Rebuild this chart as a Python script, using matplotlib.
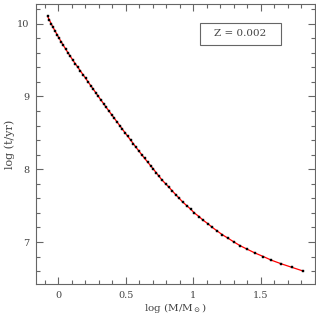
import matplotlib
matplotlib.use("Agg")
import matplotlib.pyplot as plt
from matplotlib.ticker import MultipleLocator
from matplotlib.patches import Rectangle

# log age (yr) of each isochrone point
log_age = [10.10, 10.05, 10.00, 9.95, 9.90, 9.85, 9.80, 9.75, 9.70, 9.65,
           9.60, 9.55, 9.50, 9.45, 9.40, 9.35, 9.30, 9.25, 9.20, 9.15,
           9.10, 9.05, 9.00, 8.95, 8.90, 8.85, 8.80, 8.75, 8.70, 8.65,
           8.60, 8.55, 8.50, 8.45, 8.40, 8.35, 8.30, 8.25, 8.20, 8.15,
           8.10, 8.05, 8.00, 7.95, 7.90, 7.85, 7.80, 7.75, 7.70, 7.65,
           7.60, 7.55, 7.50, 7.45, 7.40, 7.35, 7.30, 7.25, 7.20, 7.15,
           7.10, 7.05, 7.00, 6.95, 6.90, 6.85, 6.80, 6.75, 6.70, 6.65,
           6.60]
# log mass (Msun)
log_mass = [-0.079, -0.066, -0.053, -0.039, -0.024, -0.009, 0.006, 0.022, 0.038, 0.055,
            0.072, 0.090, 0.107, 0.126, 0.145, 0.164, 0.183, 0.202, 0.221, 0.240,
            0.259, 0.278, 0.297, 0.316, 0.336, 0.355, 0.375, 0.395, 0.415, 0.435,
            0.455, 0.475, 0.495, 0.515, 0.536, 0.556, 0.576, 0.597, 0.618, 0.639,
            0.661, 0.683, 0.705, 0.726, 0.747, 0.769, 0.795, 0.821, 0.845, 0.870,
            0.896, 0.921, 0.951, 0.981, 1.007, 1.042, 1.072, 1.109, 1.141, 1.178,
            1.215, 1.259, 1.301, 1.346, 1.400, 1.455, 1.519, 1.578, 1.652, 1.733,
            1.815]

x_ticks = [0, 0.5, 1, 1.5]
x_labels = ["0", "0.5", "1", "1.5"]
y_ticks = [7, 8, 9, 10]
y_labels = ["7", "8", "9", "10"]
label_text = "Z = 0.002"

plt.rcParams['font.family'] = ['DejaVu Serif']
plt.rcParams['mathtext.fontset'] = 'dejavuserif'

tc = '#444444'
fig = plt.figure(figsize=(3.16, 3.15), dpi=100)
ax = fig.add_axes([36/316, 31/315, 279/316, 280/315])

ax.plot(log_mass, log_age, color='red', lw=0.9, zorder=2)
ax.plot(log_mass, log_age, ls='none', marker='s', ms=1.8, color='black',
        mec='black', mew=0.3, zorder=3)

ax.set_xlim(-0.165, 1.901)
ax.set_ylim(6.423, 10.27)
ax.set_xticks(x_ticks)
ax.set_xticklabels(x_labels)
ax.set_yticks(y_ticks)
ax.set_yticklabels(y_labels)
ax.xaxis.set_minor_locator(MultipleLocator(0.1))
ax.yaxis.set_minor_locator(MultipleLocator(0.2))

ax.tick_params(which='both', direction='in', top=True, right=True,
               color='#666666', width=0.8, labelsize=7, labelcolor=tc)
ax.tick_params(which='major', length=5)
ax.tick_params(which='minor', length=3)
ax.tick_params(axis='x', pad=5)
ax.tick_params(axis='y', pad=5)
for s in ax.spines.values():
    s.set_color('#666666')
    s.set_linewidth(0.8)

ax.set_xlabel(r'log (M/M$_\odot$)', fontsize=7.5, color=tc, labelpad=0.5)
ax.set_ylabel('log (t/yr)', fontsize=8, color=tc, labelpad=1.5)

ax.add_patch(Rectangle((0.588, 0.854), 0.290, 0.078, transform=ax.transAxes,
                       fc='white', ec='#666666', lw=0.8, zorder=4))
ax.text(0.733, 0.893, label_text, transform=ax.transAxes,
        ha='center', va='center', fontsize=7.5, color=tc, zorder=5)

fig.savefig('out.png', dpi=100)
